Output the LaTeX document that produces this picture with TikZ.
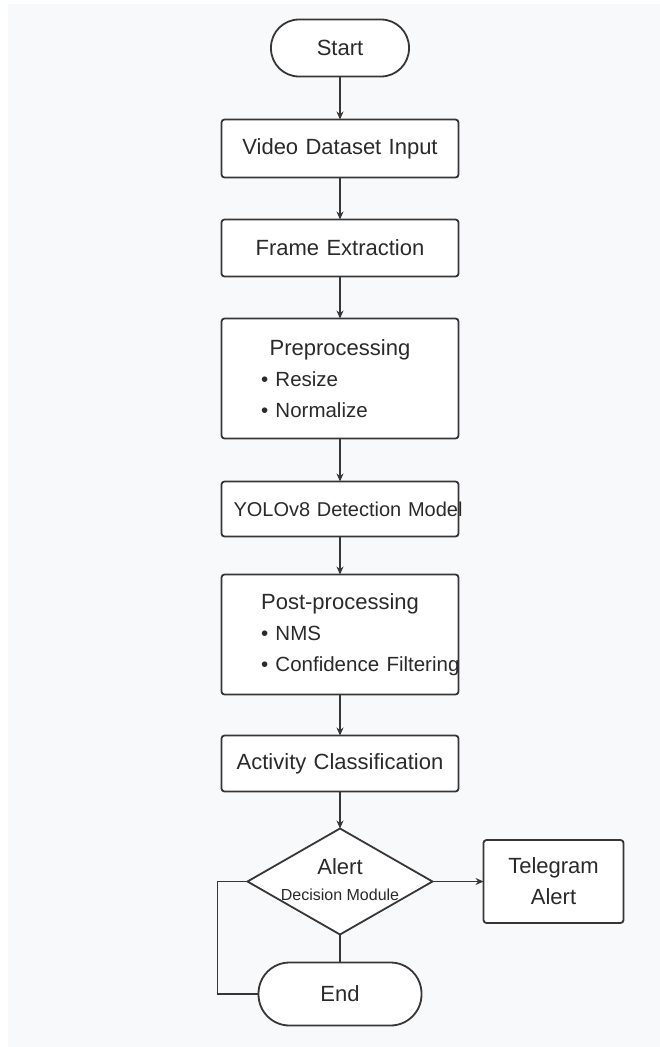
\documentclass[tikz,border=0pt]{standalone}
\usepackage{fontspec}
\setmainfont{Liberation Sans}
\usetikzlibrary{positioning,shapes.geometric,arrows.meta}
\definecolor{linegray}{HTML}{363636}
\definecolor{textgray}{HTML}{2A2A2A}
\definecolor{bggray}{HTML}{F8F9FB}
\newcommand{\bitem}[1]{\makebox[158pt][l]{\fontsize{20.5}{31}\selectfont\textbullet\ #1}}

\begin{document}
\begin{tikzpicture}[x=1pt,y=-1pt,
  box/.style={draw=linegray, line width=1.8pt, fill=white, rounded corners=3pt,
    text=textgray, font=\fontsize{22}{31}\selectfont, minimum width=237pt,
    text width=213pt, align=center, inner sep=0pt, outer sep=0pt},
  terminal/.style={draw=linegray, line width=1.8pt, fill=white,
    text=textgray, font=\fontsize{22}{31}\selectfont, inner sep=0pt, outer sep=0pt},
  decision/.style={diamond, draw=linegray, line width=1.8pt, fill=white,
    minimum width=185pt, minimum height=106pt, inner sep=0pt, outer sep=0pt},
  flow/.style={draw=linegray, line width=1.8pt, -{Stealth[length=8pt,width=7pt]}},
  link/.style={draw=linegray, line width=1.8pt}
]
  \useasboundingbox (0,0) rectangle (660,1047);
  \fill[white] (0,0) rectangle (660,1047);
  \fill[bggray] (8,4) rectangle (660,1047);

  \node[terminal, minimum width=138pt, minimum height=57pt, rounded corners=28pt] (start) at (340,48) {Start};
  \node[box, minimum height=58pt, below=43pt of start] (video) {Video Dataset Input};
  \node[box, minimum height=57pt, below=42pt of video] (frame) {Frame Extraction};
  \node[box, minimum height=120pt, below=42pt of frame] (prep)
    {Preprocessing\\ \bitem{Resize}\\ \bitem{Normalize}};
  \node[box, minimum height=55pt, below=43pt of prep, font=\fontsize{20}{28}\selectfont] (yolo) {\mbox{YOLOv8 Detection Model}};
  \node[box, minimum height=120pt, below=38pt of yolo] (post)
    {Post-processing\\ \bitem{NMS}\\ \bitem{Confidence Filtering}};
  \node[box, minimum height=56pt, below=41pt of post] (activity) {Activity Classification};
  \node[decision, below=37pt of activity] (alert) {};
  \node[text=textgray, font=\fontsize{22}{26}\selectfont, inner sep=0pt] (alerttitle) at ([yshift=15pt]alert.center) {Alert};
  \node[text=textgray, font=\fontsize{16}{18}\selectfont, inner sep=0pt] (alertsub) at ([yshift=-13pt]alert.center) {Decision Module};
  \node[box, minimum width=140pt, text width=130pt, minimum height=83pt, right=51pt of alert] (telegram) {Telegram\\Alert};
  \node[terminal, minimum width=163pt, minimum height=63pt, rounded corners=31pt, below=28pt of alert] (end) {End};

  \path[flow] (start) -- (video);
  \path[flow] (video) -- (frame);
  \path[flow] (frame) -- (prep);
  \path[flow] (prep) -- (yolo);
  \path[flow] (yolo) -- (post);
  \path[flow] (post) -- (activity);
  \path[flow] (activity) -- (alert);
  \path[flow] (alert.east) -- (telegram);
  \path[link] (alert.south) -- (end.north);
  \path[link] (alert.west) -- ++(-30,0) |- (end.west);
\end{tikzpicture}
\end{document}
